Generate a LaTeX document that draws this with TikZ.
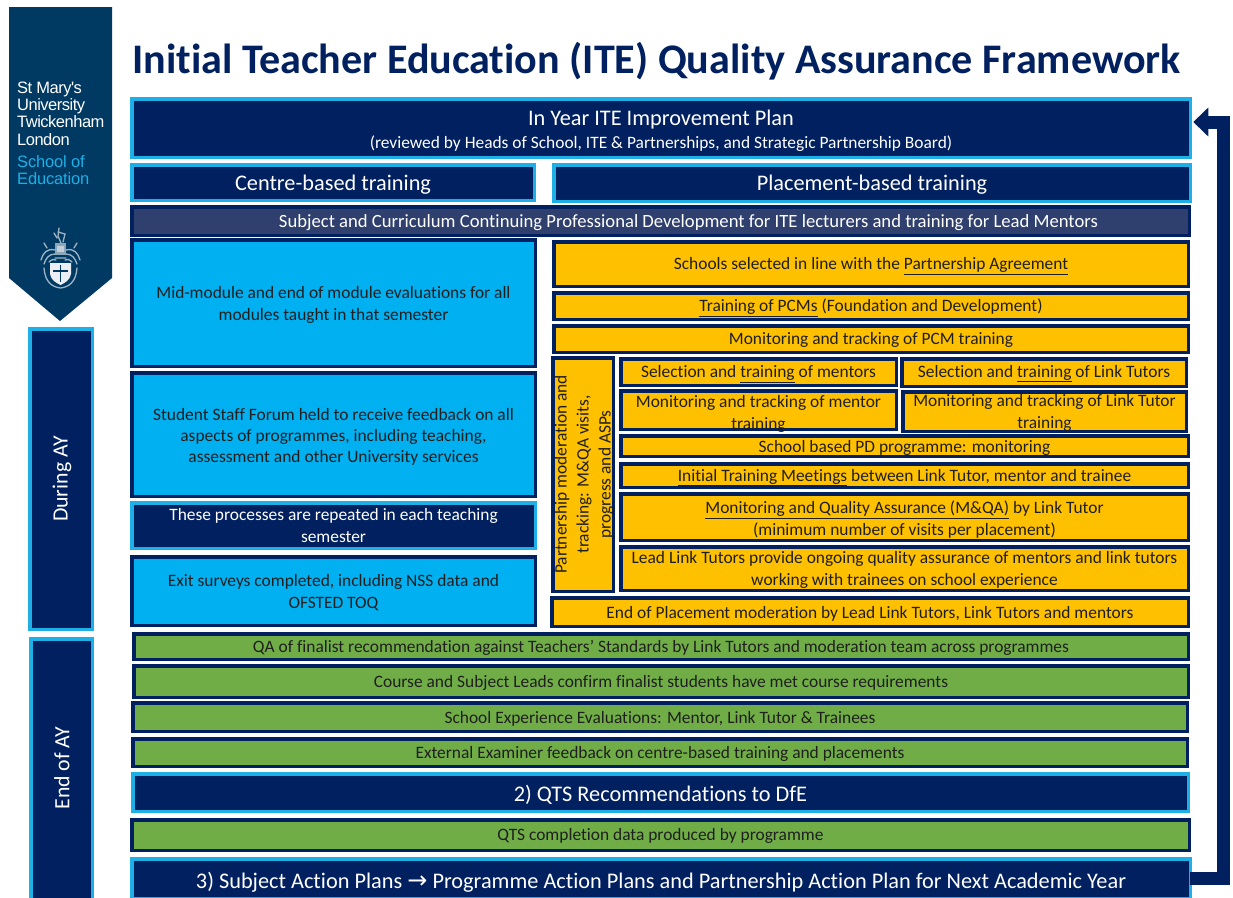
\documentclass[tikz,border=0pt]{standalone}
\usepackage{fontspec}
\setmainfont[Ligatures=NoCommon]{Carlito}
\newfontfamily\logofont[LetterSpace=-3]{Liberation Sans}
\newfontfamily\logofontb[LetterSpace=-1]{Liberation Sans}
\usetikzlibrary{arrows.meta}
\definecolor{navy}{HTML}{002060}
\definecolor{cyanb}{HTML}{1DAFE6}
\definecolor{skyfill}{HTML}{00B0F0}
\definecolor{amber}{HTML}{FFC000}
\definecolor{leaf}{HTML}{70AD47}
\definecolor{slatefill}{HTML}{2F3F6E}
\definecolor{banner}{HTML}{003A63}
\definecolor{ink}{HTML}{1F1F1F}
\tikzset{
  base/.style={draw,line width=3.5pt,inner sep=0pt,outer sep=0pt,align=center,font=\fontsize{17.4}{22}\selectfont},
  headbox/.style={base,draw=cyanb,fill=navy,text=white},
  slatebox/.style={base,draw=navy,fill=slatefill,text=white},
  skybox/.style={base,draw=navy,fill=skyfill,text=ink},
  amberbox/.style={base,draw=navy,fill=amber,text=ink},
  leafbox/.style={base,draw=navy,fill=leaf,text=ink},
  big/.style={font=\fontsize{22.3}{26}\selectfont},
  crestline/.style={draw=white!62!banner,line width=1.3pt,line cap=round},
  loopback/.style={draw=navy,line width=13pt,-{Triangle[width=28pt,length=15pt]}}
}
% #8 (optional first argument) = downward shift of the text from the box centre
\newcommand{\bx}[8][2]{%
  \pgfmathsetmacro{\bxw}{#5-#3-3.5}\pgfmathsetmacro{\bxh}{#6-#4-3.5}%
  \pgfmathsetmacro{\bxx}{(#3+#5)/2}\pgfmathsetmacro{\bxy}{(#4+#6)/2}%
  \pgfmathsetmacro{\bxt}{\bxy+#1}%
  \node[#7,minimum width=\bxw pt,minimum height=\bxh pt] (#2) at (\bxx,\bxy) {};
  \node[#7,draw=none,fill=none] (#2-text) at (\bxx,\bxt) {#8};}
\newcommand{\vbx}[7]{%
  \pgfmathsetmacro{\bxw}{#4-#2-3.5}\pgfmathsetmacro{\bxh}{#5-#3-3.5}%
  \pgfmathsetmacro{\bxx}{(#2+#4)/2}\pgfmathsetmacro{\bxy}{(#3+#5)/2}%
  \pgfmathsetmacro{\bxt}{\bxx+1}%
  \node[#6,minimum width=\bxw pt,minimum height=\bxh pt] (#1) at (\bxx,\bxy) {};
  \node[#6,draw=none,fill=none,rotate=90] (#1-text) at (\bxt,\bxy) {#7};}
\begin{document}
\begin{tikzpicture}[x=1pt,y=-1pt]
\useasboundingbox (0,0) rectangle (1233,897);
% banner
\fill[banner] (9,7) -- (112,7) -- (112,278) -- (60,321) -- (9,278) -- cycle;
\node[anchor=north west,inner sep=0pt,align=left,text=white,font=\logofont\fontsize{16.5}{17.3}\selectfont] (logoa) at (17,81.5) {St Mary's\\University\\Twickenham\\London};
\node[anchor=north west,inner sep=0pt,align=left,text=cyanb,font=\logofontb\fontsize{16.5}{17.3}\selectfont] (logob) at (17,155) {School of\\Education};
% crest
\fill[white!92!banner] (50,263) -- (71,263) -- (71,274) .. controls (70,280) and (65,283) .. (60.5,285) .. controls (56,283) and (51,280) .. (50,274) -- cycle;
\draw[banner,line width=1.2pt] (60.5,265) -- (60.5,282) (53,271) -- (68,271);
\path[fill=white!55!banner] (55,243) rectangle (66,255);
\path[fill=white!75!banner] (57,246) rectangle (64,252);
\draw[crestline] (59,228) -- (58,236) -- (61,243) (58,232) -- (65,234) -- (63,242) (54,233) -- (57,238);
\draw[crestline] (55,250) .. controls (47,248) and (43,253) .. (41,260) (55,254) .. controls (49,254) and (46,258) .. (44,264) (47,248) -- (44,243);
\draw[crestline] (66,250) .. controls (74,248) and (78,253) .. (80,260) (66,254) .. controls (72,254) and (75,258) .. (77,264) (74,248) -- (77,243);
\draw[crestline] (55,258) -- (66,258) (49,262) .. controls (52,259) and (54,259) .. (56,260) (72,262) .. controls (69,259) and (67,259) .. (65,260);
\draw[crestline] (44,268) .. controls (45,282) and (52,287) .. (60.5,288) .. controls (69,287) and (76,282) .. (77,268);
% title
\node[anchor=west,inner sep=0pt,text=navy,font=\bfseries\fontsize{42.1}{46}\selectfont] (title) at (132,61) {Initial Teacher Education (ITE) Quality Assurance Framework};
% side bands
\vbx{during}{28}{327}{94}{631}{headbox,font=\fontsize{21.8}{24}\selectfont}{During AY}
\bx{endofay}{29}{637}{94}{950}{headbox}{}
\node[rotate=90,text=white,inner sep=0pt,font=\fontsize{21.8}{24}\selectfont] (endlabel) at (62,768) {End of AY};
% top
\bx[3]{plan}{130}{97}{1192}{159}{headbox}{{\fontsize{22.3}{24}\selectfont In Year ITE Improvement Plan}\\[1pt](reviewed by Heads of School, ITE \& Partnerships, and Strategic Partnership Board)}
\bx{centre}{130}{163}{536}{202}{headbox,big}{Centre-based training}
\bx{placement}{552}{163}{1192}{203}{headbox,big}{Placement-based training}
\bx{subject}{130}{205}{1191}{237}{slatebox}{}
\node[inner sep=0pt,text=white,font=\fontsize{18.65}{22}\selectfont] (subjectlabel) at (688.5,223) {Subject and Curriculum Continuing Professional Development for ITE lecturers and training for Lead Mentors};
% left column
\bx{mid}{130}{238}{537}{368}{skybox}{Mid-module and end of module evaluations for all\\modules taught in that semester}
\bx{forum}{130}{371}{537}{498}{skybox,font=\fontsize{17.4}{21}\selectfont}{Student Staff Forum held to receive feedback on all\\aspects of programmes, including teaching,\\assessment and other University services}
\bx[0]{repeat}{130}{501}{537}{550}{headbox}{These processes are repeated in each teaching\\semester}
\bx{exit}{130}{555}{537}{627}{skybox}{Exit surveys completed, including NSS data and\\OFSTED TOQ}
% right column
\bx{schools}{552}{240}{1190}{288}{amberbox}{Schools selected in line with the \underline{Partnership Agreement}}
\bx{pcms}{552}{291}{1190}{321}{amberbox}{\underline{Training of PCMs} (Foundation and Development)}
\bx[1]{pcmtrack}{552}{324}{1190}{354}{amberbox}{Monitoring and tracking of PCM training}
\vbx{partner}{551}{356}{615}{593}{amberbox}{Partnership moderation and\\tracking: M\&QA visits,\\progress and ASPs}
\bx{selm}{619}{357}{898}{387}{amberbox}{Selection and \underline{training} of mentors}
\bx[1]{sell}{900}{357}{1188}{388}{amberbox}{Selection and \underline{training} of Link Tutors}
\bx[4]{monm}{619}{389}{898}{431}{amberbox}{Monitoring and tracking of mentor\\training}
\bx[1]{monl}{901}{390}{1188}{433}{amberbox}{Monitoring and tracking of Link Tutor\\training}
\bx{pd}{619}{434}{1190}{458}{amberbox}{School based PD programme: monitoring}
\bx{itm}{619}{462}{1190}{489}{amberbox}{\underline{Initial Training Meetings} between Link Tutor, mentor and trainee}
\bx[2.5]{mqa}{619}{492}{1190}{542}{amberbox}{\underline{Monitoring and Quality Assurance (M\&QA)} by Link Tutor\\(minimum number of visits per placement)}
\bx[1]{lead}{619}{545}{1190}{592}{amberbox}{Lead Link Tutors provide ongoing quality assurance of mentors and link tutors\\working with trainees on school experience}
\bx{eop}{550}{596}{1190}{628}{amberbox}{End of Placement moderation by Lead Link Tutors, Link Tutors and mentors}
% bottom
\bx[1]{qa}{132}{632}{1190}{661}{leafbox}{QA of finalist recommendation against Teachers' Standards by Link Tutors and moderation team across programmes}
\bx[1]{leads}{132}{664}{1190}{699}{leafbox}{Course and Subject Leads confirm finalist students have met course requirements}
\bx{sexp}{131}{701}{1189}{733}{leafbox}{School Experience Evaluations: Mentor, Link Tutor \& Trainees}
\bx[1]{ee}{131}{737}{1189}{768}{leafbox}{External Examiner feedback on centre-based training and placements}
\bx{qts}{131}{772}{1190}{813}{headbox,big}{2) QTS Recommendations to DfE}
\bx[1]{data}{130}{818}{1191}{852}{leafbox}{QTS completion data produced by programme}
\bx[4]{action}{130}{857}{1192}{900}{headbox,big}{3) Subject Action Plans {\fontspec{DejaVu Sans}\fontsize{24}{26}\selectfont →} Programme Action Plans and Partnership Action Plan for Next Academic Year}
% loop arrow
\coordinate (bendlow) at (1223.5,878.5);
\coordinate (bendhigh) at (1223.5,122);
\draw[loopback] (action.east) -- (bendlow) -- (bendhigh) -- ([xshift=3pt,yshift=6pt]plan.east);
\end{tikzpicture}
\end{document}
